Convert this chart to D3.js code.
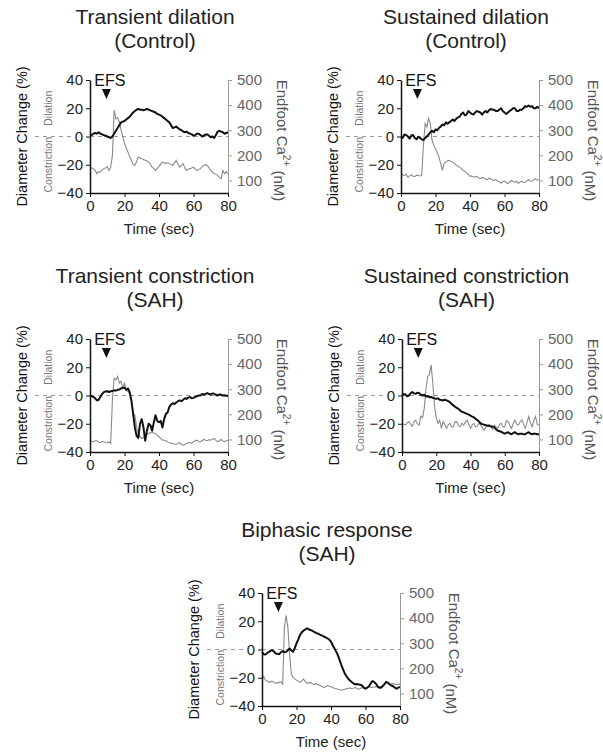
<!DOCTYPE html>
<html>
<head>
<meta charset="utf-8">
<title>EFS responses</title>
<script src="https://cdn.jsdelivr.net/npm/d3@7"></script>
<style>
body { margin: 0; background: #fff; }
svg text { font-family: Arial, "Liberation Sans", sans-serif; }
.zero { stroke: #999; stroke-width: 1; stroke-dasharray: 4,4; fill: none; }
.ca { stroke: #8a8a8a; stroke-width: 1.1; fill: none; }
.diam { stroke: #111; stroke-width: 2; fill: none; stroke-linejoin: round; }
</style>
</head>
<body>
<svg id="chart" width="603" height="755"></svg>
<script>
// sampling grid, seconds
var time = d3.range(0, 81);

var titles = ["Transient dilation", "Sustained dilation", "Transient constriction", "Sustained constriction", "Biphasic response"];
var groups = ["(Control)", "(Control)", "(SAH)", "(SAH)", "(SAH)"];

// diameter change (%) and endfoot Ca2+ (nM), one value per second
var diam1 = [1.5,1,2,2.5,2,3,2,1.5,1,0.5,0,-0.5,-1,0,2,4,6,8,10,10.5,11,12,13,14,15.5,17,18,19,19.5,19,19,18.5,19,19.5,19,18.5,18,17.5,17,16,15.5,15,14,13,12,11,10,8,6,6.5,7,6,5,4.5,3.5,3,3.5,2.5,2,1.5,0.5,1,2,2,1,0,0.5,1.5,1.5,0.5,-0.5,0,-1,1,3.5,4,3.5,3,2,2.5,3];
var ca1 = [153,150,147,140,127,135,133,140,147,150,155,140,153,200,380,345,350,333,300,273,247,230,213,195,180,165,160,175,193,190,187,183,180,178,173,165,153,148,140,148,156,165,173,170,167,170,167,163,160,170,180,165,153,160,167,150,140,145,147,150,153,145,140,143,147,155,160,163,160,150,140,133,127,125,120,113,107,140,127,135,127];

var diam2 = [0,-1,1.4,1,0,-1.5,0.7,1,-1,-2,-0.2,-1,-2,-2.5,-1,0,1.4,3,4,3,5,4.5,6,7,8.5,8,10,9,10,11,12,11,12.5,13.5,14,16,17,15,15.5,18,17,16,15.5,17,18,17.5,17,15.5,17,18,17,18.5,19.5,19,19,18,18,19,20,18,17,16,17,18,19,20,20,18,18,19,19,20,21.5,21,22,21,21.5,20,20,21,20];
var ca2 = [127,122,120,125,113,118,123,117,116,121,120,118,120,240,327,313,347,327,260,240,227,210,193,167,140,167,173,178,180,176,173,168,160,158,153,147,140,136,130,124,116,118,113,115,116,110,107,112,111,105,103,109,107,102,100,104,97,95,89,96,97,92,87,95,100,96,93,97,89,94,97,92,93,99,103,98,97,104,107,101,103];

var diam3 = [0,-0.5,-1,-2,-3.5,-3,-1,1,2.4,2.8,3,2.5,3,3.2,3.6,3.5,4,4.2,5,5.5,5.5,4,5,2.4,-3.5,-13,-22.6,-28.6,-30,-20,-16.7,-22.6,-32,-25,-20,-21,-25,-19,-14,-18,-19,-18,-22.6,-16.7,-13,-12,-8,-6.4,-5.5,-6,-5,-4,-3.5,-4,-3,-2,-2.4,-1.5,-1,-2,-1.7,-1,-0.5,0,0,1,0.7,1.2,1.7,1,0.7,1.5,1.2,0.5,0,0.8,0.5,0,0.2,-0.3,0];
var ca3 = [97,93,91,95,95,90,87,92,91,88,87,90,84,260,344,337,351,324,331,304,324,297,291,284,257,204,197,151,124,111,104,108,111,120,124,127,127,126,124,116,111,104,97,98,95,90,87,86,84,82,81,84,87,80,77,81,84,88,87,85,91,95,97,92,91,96,100,97,95,99,97,101,104,96,91,95,100,94,91,95,97];

var diam4 = [0,1,0.7,-0.5,0,1.5,2.4,1.5,1.2,2,1.7,0.5,0,0.5,-0.7,-0.5,-1.2,-1,-1.7,-2,-2.4,-2,-3,-3.2,-3.5,-3,-3.5,-4,-4.8,-6,-7,-8,-8.8,-9.5,-10.7,-11.5,-12,-12.5,-13,-13.5,-14.3,-15,-15.5,-16.5,-17.4,-18.5,-19.8,-20.3,-20.7,-21,-21.4,-21.5,-22,-22,-22.6,-24,-25,-25.3,-25.7,-26.5,-27,-26.5,-26,-27,-27.4,-26.5,-26,-27,-27.4,-27,-27,-27.5,-27.4,-26.5,-26,-27,-27.4,-27,-27,-27.5,-27.4];
var ca4 = [164,160,157,166,171,160,153,170,177,162,157,193,187,224,304,351,357,397,324,231,187,164,177,144,171,160,144,158,164,150,151,170,171,155,151,165,157,168,177,160,144,158,164,150,153,165,157,145,137,150,153,160,148,140,157,150,144,160,164,150,151,175,171,155,144,165,177,160,157,170,177,160,144,168,191,165,151,175,191,160,157];

var diam5 = [-1.7,-3.3,-3.6,-2.5,-1.7,-1,-0.5,-1.5,-2.9,-3,-3.3,-2,-1,-2,-1.7,-0.5,0.7,-0.5,-1.7,1,4.3,7,10.2,12,13.3,14,15,14.5,13.8,13.5,12.6,12,11.4,11,10.2,9.8,9,8.5,7.8,7,5.5,3,0.7,-1.5,-4,-7.5,-11,-14,-17,-19,-20.7,-22,-23,-24,-24.7,-24.5,-24.7,-25,-25.4,-27,-27.8,-27,-26,-24,-22.3,-23,-24.2,-26,-27,-27,-26,-24.5,-23,-23.5,-24.7,-25.5,-26,-27,-27.8,-27,-26.6];
var ca5 = [157,167,153,150,144,147,148,144,140,143,144,148,137,364,411,364,257,177,164,158,153,149,144,150,157,148,140,143,144,140,135,138,137,134,131,127,124,128,131,129,127,124,121,119,117,115,113,115,117,119,121,122,120,121,124,120,117,120,124,122,121,124,127,125,124,126,127,125,124,128,131,138,144,140,135,138,140,137,135,136,137];

var diamTicks = [-40, -20, 0, 20, 40];
var caTicks = [100, 200, 300, 400, 500];
var timeTicks = [0, 20, 40, 60, 80];
var efsTime = 9.5;

// plot frames (left axis x, right axis x, top y, bottom y)
var panels = [
  {diam: diam1, ca: ca1, x0: 90,  x1: 228, y0: 80,  y1: 193},
  {diam: diam2, ca: ca2, x0: 401, x1: 539, y0: 80,  y1: 193},
  {diam: diam3, ca: ca3, x0: 90,  x1: 228, y0: 339, y1: 452},
  {diam: diam4, ca: ca4, x0: 402, x1: 539, y0: 339, y1: 452},
  {diam: diam5, ca: ca5, x0: 262, x1: 400, y0: 593, y1: 706}
];

var svg = d3.select("#chart");

panels.forEach(function(p, i) {
  var x = d3.scaleLinear().domain([0, 80]).range([p.x0, p.x1]);
  var yL = d3.scaleLinear().domain([-40, 40]).range([p.y1, p.y0]);
  var yR = d3.scaleLinear().domain([50, 500]).range([p.y1, p.y0]);
  var g = svg.append("g");
  var cx = (p.x0 + p.x1) / 2 - 4;

  // titles
  g.append("text").attr("x", cx).attr("y", p.y0 - 56)
    .attr("text-anchor", "middle").attr("font-size", 21).attr("fill", "#222")
    .text(titles[i]);
  g.append("text").attr("x", cx).attr("y", p.y0 - 32)
    .attr("text-anchor", "middle").attr("font-size", 21).attr("fill", "#222")
    .text(groups[i]);

  // zero reference
  g.append("line").attr("class", "zero")
    .attr("x1", p.x0 - 55).attr("x2", p.x0 - 17)
    .attr("y1", yL(0)).attr("y2", yL(0));
  g.append("line").attr("class", "zero")
    .attr("x1", p.x0).attr("x2", p.x1)
    .attr("y1", yL(0)).attr("y2", yL(0));

  // traces
  var caLine = d3.line().x(function(d, j) { return x(time[j]); }).y(function(d) { return yR(d); });
  var dLine = d3.line().x(function(d, j) { return x(time[j]); }).y(function(d) { return yL(d); });
  g.append("path").attr("class", "ca").attr("d", caLine(p.ca));
  g.append("path").attr("class", "diam").attr("d", dLine(p.diam));

  // axes
  var ax = g.append("g").attr("transform", "translate(" + p.x0 + ",0)")
    .call(d3.axisLeft(yL).tickValues(diamTicks).tickSize(4).tickSizeOuter(0).tickPadding(3));
  ax.select(".domain").attr("stroke", "#111").attr("stroke-width", 1.5);
  ax.selectAll(".tick line").attr("stroke", "#111");
  ax.selectAll("text").attr("font-size", 15).attr("fill", "#222").style("font-family", "Arial, 'Liberation Sans', sans-serif");

  var ar = g.append("g").attr("transform", "translate(" + p.x1 + ",0)")
    .call(d3.axisRight(yR).tickValues(caTicks).tickSize(4).tickSizeOuter(0).tickPadding(5));
  ar.select(".domain").attr("stroke", "#999");
  ar.selectAll(".tick line").attr("stroke", "#999");
  ar.selectAll("text").attr("font-size", 15).attr("fill", "#666").style("font-family", "Arial, 'Liberation Sans', sans-serif");

  var ab = g.append("g").attr("transform", "translate(0," + p.y1 + ")")
    .call(d3.axisBottom(x).tickValues(timeTicks).tickSize(4).tickSizeOuter(0).tickPadding(3));
  ab.select(".domain").attr("stroke", "#111").attr("stroke-width", 1.5);
  ab.selectAll(".tick line").attr("stroke", "#111");
  ab.selectAll("text").attr("font-size", 15).attr("fill", "#222").style("font-family", "Arial, 'Liberation Sans', sans-serif");

  g.append("text").attr("x", (p.x0 + p.x1) / 2).attr("y", p.y1 + 41)
    .attr("text-anchor", "middle").attr("font-size", 15).attr("fill", "#222")
    .text("Time (sec)");

  // axis titles
  var ymid = (p.y0 + p.y1) / 2;
  g.append("text")
    .attr("transform", "translate(" + (p.x0 - 68) + "," + ymid + ") rotate(-90)")
    .attr("text-anchor", "middle").attr("dy", "0.35em").attr("font-size", 14.5).attr("fill", "#111")
    .text("Diameter Change (%)");
  g.append("text")
    .attr("transform", "translate(" + (p.x0 - 42) + "," + ((p.y0 + yL(0)) / 2) + ") rotate(-90)")
    .attr("text-anchor", "middle").attr("dy", "0.35em").attr("font-size", 10.5).attr("fill", "#777")
    .text("Dilation");
  g.append("text")
    .attr("transform", "translate(" + (p.x0 - 42) + "," + ((yL(0) + p.y1) / 2) + ") rotate(-90)")
    .attr("text-anchor", "middle").attr("dy", "0.35em").attr("font-size", 10.5).attr("fill", "#777")
    .text("Constriction");

  var rt = g.append("text")
    .attr("transform", "translate(" + (p.x1 + 54) + "," + (ymid + 4) + ") rotate(90)")
    .attr("text-anchor", "middle").attr("dy", "0.35em").attr("font-size", 15).attr("fill", "#555");
  rt.append("tspan").text("Endfoot Ca");
  rt.append("tspan").attr("font-size", 10).attr("dy", "-0.6em").text("2+");
  rt.append("tspan").attr("dy", "0.6em").text(" (nM)");

  // stimulus marker
  var ex = x(efsTime);
  g.append("text").attr("x", x(11.5)).attr("y", p.y0 + 6)
    .attr("text-anchor", "middle").attr("font-size", 16).attr("fill", "#111")
    .text("EFS");
  g.append("path")
    .attr("d", "M" + (ex - 4.5) + "," + (p.y0 + 9) + "L" + (ex + 4.5) + "," + (p.y0 + 9) + "L" + ex + "," + (p.y0 + 19) + "Z")
    .attr("fill", "#111");
});
</script>
</body>
</html>
